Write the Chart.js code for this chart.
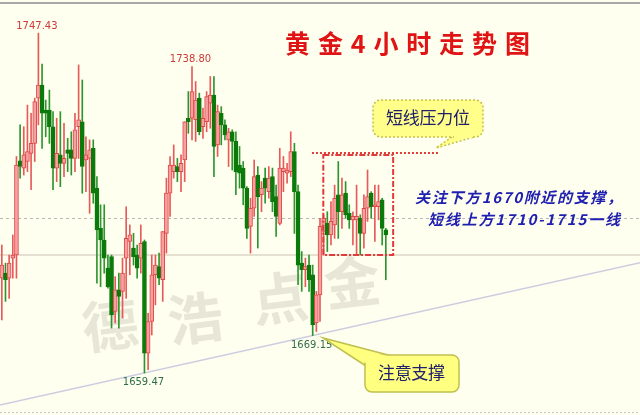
<!DOCTYPE html>
<html>
<head>
<meta charset="utf-8">
<script src="https://cdn.jsdelivr.net/npm/chart.js@4.4.1/dist/chart.umd.min.js"></script>
<style>
  html, body { margin: 0; padding: 0; background: #fffff0; }
  #grafico { display: block; }
</style>
</head>
<body>
<canvas id="grafico" width="640" height="415"></canvas>
<script>
/* Velas de 4 horas: apertura, maximo, minimo, cierre */
var opens = [1684.0, 1685.3, 1684.0, 1689.2, 1690.0, 1714.4, 1712.5, 1714.2, 1716.3, 1718.9,
  1730.6, 1734.0, 1727.5, 1727.5, 1723.2, 1712.5, 1715.9, 1713.7, 1717.2, 1717.2,
  1715.0, 1723.2, 1724.5, 1714.6, 1715.0, 1717.6, 1707.3, 1696.9, 1693.9, 1686.6,
  1689.6, 1675.4, 1681.0, 1680.6, 1689.2, 1693.5, 1691.8, 1690.0, 1689.2, 1693.5,
  1664.6, 1672.8, 1684.9, 1687.0, 1683.6, 1695.6, 1706.0, 1711.6, 1712.9, 1711.6,
  1714.6, 1725.4, 1725.4, 1725.0, 1730.6, 1723.2, 1724.5, 1729.3, 1731.4, 1718.5,
  1726.7, 1723.7, 1719.8, 1721.9, 1719.4, 1713.3, 1712.5, 1707.3, 1697.4, 1702.1,
  1710.7, 1705.6, 1709.9, 1706.4, 1710.3, 1705.1, 1698.2, 1711.6, 1711.2, 1711.6,
  1716.8, 1706.4, 1687.9, 1686.2, 1687.4, 1684.9, 1672.4, 1679.7, 1696.1, 1698.2,
  1695.2, 1697.8, 1705.6, 1701.2, 1706.0, 1700.8, 1699.1, 1699.1, 1699.5, 1695.6,
  1702.1, 1706.0, 1702.5, 1702.5, 1704.3, 1696.5];
var highs = [1692.6, 1687.9, 1690.0, 1695.2, 1715.5, 1723.7, 1723.2, 1728.8, 1726.7, 1730.6,
  1747.43, 1739.4, 1730.1, 1732.7, 1727.1, 1725.4, 1727.1, 1724.1, 1720.2, 1721.9,
  1726.7, 1739.2, 1735.3, 1720.6, 1719.8, 1719.8, 1710.3, 1703.0, 1703.0, 1690.0,
  1690.0, 1684.4, 1685.3, 1689.2, 1702.5, 1697.8, 1695.6, 1692.6, 1697.8, 1693.9,
  1674.9, 1690.0, 1690.0, 1690.5, 1696.1, 1709.9, 1715.5, 1718.5, 1715.0, 1715.9,
  1724.5, 1732.3, 1738.8, 1734.9, 1731.9, 1728.0, 1732.3, 1736.2, 1736.2, 1728.8,
  1728.4, 1725.0, 1722.8, 1722.4, 1721.9, 1718.1, 1714.2, 1707.7, 1704.7, 1714.6,
  1712.9, 1709.0, 1712.5, 1712.9, 1712.5, 1708.1, 1717.6, 1715.5, 1713.7, 1721.9,
  1718.9, 1708.1, 1690.9, 1689.2, 1690.0, 1687.4, 1680.6, 1699.5, 1700.4, 1701.2,
  1703.8, 1708.1, 1714.2, 1709.9, 1709.0, 1703.0, 1701.2, 1708.1, 1700.4, 1705.6,
  1712.0, 1706.4, 1708.1, 1708.1, 1704.7, 1696.9];
var lows = [1673.2, 1678.0, 1678.8, 1684.0, 1684.0, 1709.9, 1710.7, 1711.6, 1706.9, 1714.2,
  1723.7, 1717.6, 1720.6, 1718.9, 1706.9, 1709.0, 1707.7, 1710.3, 1711.6, 1710.7,
  1711.6, 1715.0, 1706.0, 1706.4, 1700.8, 1703.4, 1682.7, 1681.8, 1685.3, 1681.4,
  1671.1, 1672.4, 1671.1, 1673.7, 1678.8, 1684.9, 1687.4, 1684.0, 1685.3, 1659.47,
  1660.3, 1669.3, 1677.1, 1682.3, 1678.0, 1690.5, 1700.0, 1709.9, 1709.0, 1706.4,
  1709.0, 1721.5, 1719.8, 1719.4, 1721.1, 1720.2, 1721.9, 1722.8, 1710.3, 1715.5,
  1718.5, 1719.8, 1712.9, 1712.0, 1705.6, 1707.3, 1703.0, 1694.3, 1690.5, 1700.0,
  1691.8, 1701.2, 1703.4, 1704.7, 1701.2, 1694.8, 1697.8, 1706.4, 1708.6, 1710.3,
  1695.6, 1682.3, 1680.6, 1681.8, 1680.6, 1669.15, 1670.2, 1672.8, 1690.0, 1690.9,
  1692.6, 1694.3, 1694.3, 1696.9, 1699.5, 1696.9, 1692.6, 1690.0, 1690.0, 1691.8,
  1698.7, 1699.5, 1693.5, 1699.1, 1692.6, 1683.6];
var closes = [1687.4, 1683.6, 1687.9, 1690.0, 1713.3, 1712.9, 1715.9, 1716.8, 1718.9, 1729.7,
  1734.0, 1726.7, 1726.7, 1723.2, 1712.5, 1716.3, 1713.7, 1715.0, 1716.3, 1715.0,
  1722.4, 1725.0, 1712.9, 1715.9, 1717.2, 1706.0, 1696.5, 1693.9, 1689.2, 1681.8,
  1674.5, 1681.0, 1679.3, 1685.3, 1694.3, 1695.2, 1689.6, 1686.6, 1693.0, 1664.6,
  1672.8, 1684.9, 1687.4, 1684.0, 1696.1, 1706.0, 1713.3, 1713.3, 1711.6, 1713.7,
  1724.5, 1724.5, 1732.3, 1730.1, 1721.9, 1725.4, 1731.0, 1731.4, 1718.1, 1727.1,
  1723.7, 1721.1, 1721.9, 1719.4, 1711.6, 1711.2, 1707.3, 1696.9, 1702.1, 1710.3,
  1705.1, 1707.3, 1707.3, 1709.9, 1703.8, 1700.0, 1712.5, 1712.5, 1712.0, 1716.8,
  1706.4, 1687.4, 1686.2, 1687.0, 1683.6, 1671.9, 1679.7, 1697.4, 1699.5, 1695.2,
  1698.7, 1704.7, 1701.2, 1705.6, 1700.4, 1699.1, 1700.0, 1700.0, 1695.6, 1702.1,
  1705.1, 1702.5, 1703.0, 1703.8, 1696.9, 1695.2];

/* Maximos y minimos marcados: indice de vela */
var marcasAltas = [10, 52];
var marcasBajas = [39, 85];

/* Niveles horizontales (precio) */
var nivelDiscontinuo = 1699.7;
var nivelSolido = 1690.0;
var lineaPresion = { precio: 1716.4, desde: 84.8, hasta: 119.8 };
var cajaRango = { desde: 87.9, hasta: 107, arriba: 1715.9, abajo: 1690.0 };

var titulo = '黄金4小时走势图';
var nota1 = '关注下方1670附近的支撑，';
var nota2 = '短线上方1710-1715一线';
var marcaAgua = ['德', '浩', '点', '金'];

function esRoja(i) { return closes[i] >= opens[i]; }

var mechas = highs.map(function (h, i) { return { x: i, y: [lows[i], h] }; });
var cuerpos = opens.map(function (o, i) { return { x: i, y: [o, closes[i]] }; });

/* Repartir los caracteres de un texto en un ancho dado */
function repartir(ctx, texto, x0, x1, y) {
  var chars = Array.from(texto);
  var total = 0;
  chars.forEach(function (c) { total += ctx.measureText(c).width; });
  var hueco = chars.length > 1 ? (x1 - x0 - total) / (chars.length - 1) : 0;
  var cx = x0;
  ctx.textAlign = 'left';
  ctx.textBaseline = 'middle';
  chars.forEach(function (c) {
    ctx.fillText(c, cx, y);
    cx += ctx.measureText(c).width + hueco;
  });
}

var fondo = {
  id: 'fondo',
  beforeDraw: function (chart) {
    var ctx = chart.ctx;
    ctx.save();
    ctx.fillStyle = '#fffff0';
    ctx.fillRect(0, 0, chart.width, chart.height);
    ctx.restore();
  },
  beforeDatasetsDraw: function (chart) {
    var ctx = chart.ctx;
    var x = chart.scales.x, y = chart.scales.y;
    ctx.save();
    // marco
    ctx.strokeStyle = '#a8a8a8';
    ctx.lineWidth = 2;
    ctx.beginPath(); ctx.moveTo(0, 3); ctx.lineTo(640, 3); ctx.stroke();
    ctx.strokeStyle = '#c4c4c4';
    ctx.lineWidth = 1;
    ctx.setLineDash([2, 2]);
    ctx.beginPath(); ctx.moveTo(0, 412.5); ctx.lineTo(640, 412.5); ctx.stroke();

    // marca de agua
    ctx.setLineDash([]);
    ctx.font = 'bold 56px "Noto Sans CJK SC"';
    ctx.fillStyle = 'rgba(185,180,165,0.33)';
    ctx.textAlign = 'center';
    ctx.textBaseline = 'middle';
    var pos = [[110, 325], [195, 318], [280, 298], [352, 282]];
    marcaAgua.forEach(function (c, k) {
      ctx.save();
      ctx.translate(pos[k][0], pos[k][1]);
      ctx.rotate(-0.12);
      ctx.fillText(c, 0, 0);
      ctx.restore();
    });

    // niveles
    var yd = Math.round(y.getPixelForValue(nivelDiscontinuo)) + 0.5;
    ctx.strokeStyle = '#b8b8b8';
    ctx.lineWidth = 1;
    ctx.setLineDash([3, 3]);
    ctx.beginPath(); ctx.moveTo(0, yd); ctx.lineTo(640, yd); ctx.stroke();
    var ys = y.getPixelForValue(nivelSolido);
    ctx.setLineDash([]);
    ctx.strokeStyle = '#dcd6c4';
    ctx.lineWidth = 1.5;
    ctx.beginPath(); ctx.moveTo(0, ys); ctx.lineTo(640, ys); ctx.stroke();

    // linea de tendencia por los dos minimos
    var a = marcasBajas[0], b = marcasBajas[1];
    var ax = x.getPixelForValue(a), ay = y.getPixelForValue(lows[a]);
    var bx = x.getPixelForValue(b), by = y.getPixelForValue(lows[b]);
    var m = (by - ay) / (bx - ax);
    ctx.strokeStyle = '#cdcde0';
    ctx.lineWidth = 1.5;
    ctx.beginPath();
    ctx.moveTo(0, ay - m * ax);
    ctx.lineTo(640, ay + m * (640 - ax));
    ctx.stroke();
    ctx.restore();
  },
  afterDatasetsDraw: function (chart) {
    var ctx = chart.ctx;
    var x = chart.scales.x, y = chart.scales.y;
    ctx.save();

    // etiquetas de maximos y minimos
    ctx.font = '10px "DejaVu Sans"';
    ctx.textAlign = 'center';
    ctx.textBaseline = 'middle';
    ctx.fillStyle = '#cc3a3a';
    marcasAltas.forEach(function (i) {
      ctx.fillText(highs[i].toFixed(2), x.getPixelForValue(i) - 1.5, y.getPixelForValue(highs[i]) - 7);
    });
    ctx.fillStyle = '#2f6e45';
    marcasBajas.forEach(function (i) {
      ctx.fillText(lows[i].toFixed(2), x.getPixelForValue(i) - 1, y.getPixelForValue(lows[i]) + 9.5);
    });

    // linea de presion y caja
    ctx.strokeStyle = '#e03a3a';
    ctx.lineWidth = 2;
    ctx.setLineDash([2, 2]);
    var yp = y.getPixelForValue(lineaPresion.precio);
    ctx.beginPath();
    ctx.moveTo(x.getPixelForValue(lineaPresion.desde), yp);
    ctx.lineTo(x.getPixelForValue(lineaPresion.hasta), yp);
    ctx.stroke();
    ctx.setLineDash([6, 2, 2, 2]);
    var rx0 = x.getPixelForValue(cajaRango.desde), rx1 = x.getPixelForValue(cajaRango.hasta);
    var ry0 = y.getPixelForValue(cajaRango.arriba), ry1 = y.getPixelForValue(cajaRango.abajo);
    ctx.strokeRect(rx0, ry0, rx1 - rx0, ry1 - ry0);

    // globo "短线压力位"
    ctx.setLineDash([]);
    ctx.fillStyle = '#ffff8a';
    ctx.beginPath();
    ctx.moveTo(452, 136); ctx.lineTo(436, 148); ctx.lineTo(474, 136); ctx.closePath();
    ctx.fill();
    ctx.strokeStyle = '#c8c040';
    ctx.lineWidth = 1.5;
    ctx.setLineDash([2, 2]);
    ctx.beginPath(); ctx.moveTo(452, 137); ctx.lineTo(436, 148); ctx.lineTo(474, 137); ctx.stroke();
    ctx.beginPath();
    ctx.roundRect(373, 100, 110, 37, 8);
    ctx.fill();
    ctx.stroke();
    ctx.fillStyle = '#ffff8a';
    ctx.fillRect(454, 134, 18, 4);
    ctx.setLineDash([]);
    ctx.fillStyle = '#20206a';
    ctx.font = '17px "Noto Sans CJK SC"';
    repartir(ctx, '短线压力位', 386, 470, 118);

    // globo "注意支撑"
    ctx.fillStyle = '#ffff80';
    ctx.strokeStyle = '#c0c050';
    ctx.lineWidth = 1.5;
    ctx.beginPath();
    ctx.moveTo(392, 356); ctx.lineTo(323, 338); ctx.lineTo(366, 366); ctx.closePath();
    ctx.fill();
    ctx.beginPath(); ctx.moveTo(392, 356); ctx.lineTo(323, 338); ctx.lineTo(366, 366); ctx.stroke();
    ctx.beginPath();
    ctx.roundRect(365, 355, 94, 37, 7);
    ctx.fill();
    ctx.stroke();
    ctx.fillStyle = '#ffff80';
    ctx.beginPath(); ctx.moveTo(392, 357); ctx.lineTo(340, 345); ctx.lineTo(367, 364); ctx.closePath(); ctx.fill();
    ctx.fillStyle = '#20206a';
    ctx.font = '17px "Noto Sans CJK SC"';
    repartir(ctx, '注意支撑', 378, 445, 373);

    // titulo
    ctx.font = 'bold 25px "Noto Sans CJK SC"';
    ctx.fillStyle = '#e01414';
    repartir(ctx, titulo, 285, 530, 43);

    // notas en azul
    ctx.font = 'italic bold 15px "Noto Sans CJK SC"';
    ctx.fillStyle = '#2020b0';
    repartir(ctx, nota1, 415, 622, 197);
    repartir(ctx, nota2, 428, 620, 219);
    ctx.restore();
  }
};

var marco = document.getElementById('grafico').getContext('2d');

var grafico = new Chart(marco, {
  type: 'bar',
  data: {
    datasets: [
      {
        label: 'Cuerpo',
        data: cuerpos,
        order: 1,
        grouped: false,
        barThickness: 4,
        minBarLength: 1,
        borderWidth: 1,
        borderSkipped: false,
        backgroundColor: function (c) { return esRoja(c.dataIndex) ? '#f6a0a0' : '#0b7a0b'; },
        borderColor: function (c) { return esRoja(c.dataIndex) ? '#e04848' : '#0b7a0b'; }
      },
      {
        label: 'Mecha',
        data: mechas,
        order: 2,
        grouped: false,
        barThickness: 1,
        borderWidth: 0,
        backgroundColor: function (c) { return esRoja(c.dataIndex) ? '#e85a5a' : '#2e952e'; }
      }
    ]
  },
  options: {
    responsive: false,
    animation: false,
    layout: { padding: 0 },
    scales: {
      x: { type: 'linear', min: -0.5, max: 174.5, offset: false, display: false, grid: { offset: false } },
      y: { min: 1648.6, max: 1756.0, beginAtZero: false, display: false }
    },
    plugins: {
      legend: { display: false },
      tooltip: { enabled: false }
    }
  },
  plugins: [fondo]
});
</script>
</body>
</html>
